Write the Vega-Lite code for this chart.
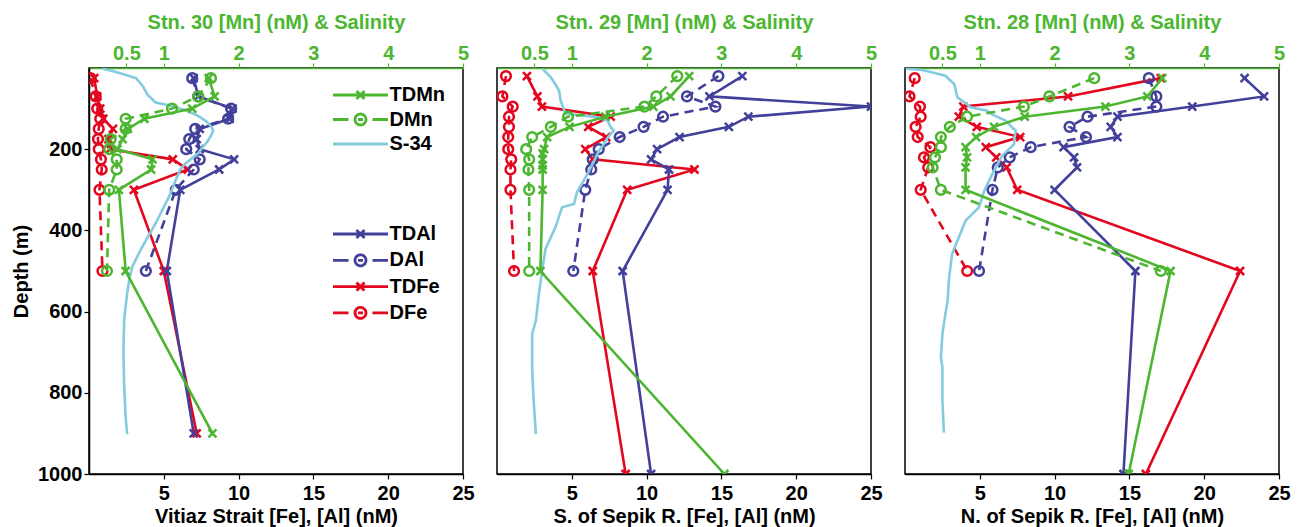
{
"$schema": "https://vega.github.io/schema/vega-lite/v6.json",
"background": "white",
"padding": {"left": 10, "top": 11, "right": 0, "bottom": 0},
"bounds": "flush",
"spacing": 34,
"data": {"values": [
{"stn":30,"series":"DFe","depth":25,"value":0.1},{"stn":30,"series":"DFe","depth":70,"value":0.45},{"stn":30,"series":"DFe","depth":100,"value":0.55},{"stn":30,"series":"DFe","depth":125,"value":0.75},{"stn":30,"series":"DFe","depth":150,"value":0.65},{"stn":30,"series":"DFe","depth":175,"value":0.6},{"stn":30,"series":"DFe","depth":200,"value":0.65},{"stn":30,"series":"DFe","depth":225,"value":0.8},{"stn":30,"series":"DFe","depth":250,"value":0.85},{"stn":30,"series":"DFe","depth":300,"value":0.7},{"stn":30,"series":"DFe","depth":500,"value":0.9},
{"stn":30,"series":"TDFe","depth":25,"value":0.35},{"stn":30,"series":"TDFe","depth":70,"value":0.55},{"stn":30,"series":"TDFe","depth":100,"value":0.75},{"stn":30,"series":"TDFe","depth":125,"value":0.95},{"stn":30,"series":"TDFe","depth":150,"value":1.6},{"stn":30,"series":"TDFe","depth":175,"value":1.3},{"stn":30,"series":"TDFe","depth":200,"value":1.4},{"stn":30,"series":"TDFe","depth":225,"value":5.6},{"stn":30,"series":"TDFe","depth":250,"value":6.6},{"stn":30,"series":"TDFe","depth":300,"value":3.0},{"stn":30,"series":"TDFe","depth":500,"value":5.0},{"stn":30,"series":"TDFe","depth":900,"value":7.2},
{"stn":30,"series":"DAl","depth":25,"value":6.9},{"stn":30,"series":"DAl","depth":70,"value":7.3},{"stn":30,"series":"DAl","depth":100,"value":9.5},{"stn":30,"series":"DAl","depth":125,"value":9.3},{"stn":30,"series":"DAl","depth":150,"value":7.1},{"stn":30,"series":"DAl","depth":175,"value":6.7},{"stn":30,"series":"DAl","depth":200,"value":6.5},{"stn":30,"series":"DAl","depth":225,"value":7.4},{"stn":30,"series":"DAl","depth":250,"value":7.0},{"stn":30,"series":"DAl","depth":300,"value":5.8},{"stn":30,"series":"DAl","depth":500,"value":3.8},
{"stn":30,"series":"TDAl","depth":25,"value":7.0},{"stn":30,"series":"TDAl","depth":70,"value":7.3},{"stn":30,"series":"TDAl","depth":100,"value":9.6},{"stn":30,"series":"TDAl","depth":125,"value":9.4},{"stn":30,"series":"TDAl","depth":150,"value":7.4},{"stn":30,"series":"TDAl","depth":175,"value":7.2},{"stn":30,"series":"TDAl","depth":200,"value":7.4},{"stn":30,"series":"TDAl","depth":225,"value":9.7},{"stn":30,"series":"TDAl","depth":250,"value":8.7},{"stn":30,"series":"TDAl","depth":300,"value":6.1},{"stn":30,"series":"TDAl","depth":500,"value":5.2},{"stn":30,"series":"TDAl","depth":900,"value":7.0},
{"stn":30,"series":"DMn","depth":25,"value":1.63},{"stn":30,"series":"DMn","depth":70,"value":1.46},{"stn":30,"series":"DMn","depth":100,"value":1.11},{"stn":30,"series":"DMn","depth":125,"value":0.49},{"stn":30,"series":"DMn","depth":150,"value":0.49},{"stn":30,"series":"DMn","depth":175,"value":0.29},{"stn":30,"series":"DMn","depth":200,"value":0.27},{"stn":30,"series":"DMn","depth":225,"value":0.37},{"stn":30,"series":"DMn","depth":250,"value":0.37},{"stn":30,"series":"DMn","depth":300,"value":0.27},{"stn":30,"series":"DMn","depth":500,"value":0.24},
{"stn":30,"series":"TDMn","depth":25,"value":1.6},{"stn":30,"series":"TDMn","depth":70,"value":1.68},{"stn":30,"series":"TDMn","depth":100,"value":1.38},{"stn":30,"series":"TDMn","depth":125,"value":0.74},{"stn":30,"series":"TDMn","depth":150,"value":0.52},{"stn":30,"series":"TDMn","depth":175,"value":0.45},{"stn":30,"series":"TDMn","depth":200,"value":0.38},{"stn":30,"series":"TDMn","depth":225,"value":0.85},{"stn":30,"series":"TDMn","depth":250,"value":0.83},{"stn":30,"series":"TDMn","depth":300,"value":0.4},{"stn":30,"series":"TDMn","depth":500,"value":0.49},{"stn":30,"series":"TDMn","depth":900,"value":1.65},
{"stn":30,"series":"S-34","depth":2,"value":0.18},{"stn":30,"series":"S-34","depth":7,"value":0.3},{"stn":30,"series":"S-34","depth":15,"value":0.45},{"stn":30,"series":"S-34","depth":25,"value":0.63},{"stn":30,"series":"S-34","depth":45,"value":0.72},{"stn":30,"series":"S-34","depth":65,"value":0.78},{"stn":30,"series":"S-34","depth":85,"value":0.89},{"stn":30,"series":"S-34","depth":93,"value":1.1},{"stn":30,"series":"S-34","depth":105,"value":1.3},{"stn":30,"series":"S-34","depth":115,"value":1.43},{"stn":30,"series":"S-34","depth":130,"value":1.56},{"stn":30,"series":"S-34","depth":145,"value":1.64},{"stn":30,"series":"S-34","depth":155,"value":1.66},{"stn":30,"series":"S-34","depth":170,"value":1.62},{"stn":30,"series":"S-34","depth":182,"value":1.58},{"stn":30,"series":"S-34","depth":195,"value":1.52},{"stn":30,"series":"S-34","depth":210,"value":1.46},{"stn":30,"series":"S-34","depth":222,"value":1.38},{"stn":30,"series":"S-34","depth":235,"value":1.29},{"stn":30,"series":"S-34","depth":250,"value":1.22},{"stn":30,"series":"S-34","depth":276,"value":1.16},{"stn":30,"series":"S-34","depth":317,"value":1.07},{"stn":30,"series":"S-34","depth":350,"value":0.98},{"stn":30,"series":"S-34","depth":383,"value":0.89},{"stn":30,"series":"S-34","depth":415,"value":0.79},{"stn":30,"series":"S-34","depth":448,"value":0.69},{"stn":30,"series":"S-34","depth":489,"value":0.58},{"stn":30,"series":"S-34","depth":520,"value":0.54},{"stn":30,"series":"S-34","depth":555,"value":0.51},{"stn":30,"series":"S-34","depth":620,"value":0.47},{"stn":30,"series":"S-34","depth":700,"value":0.46},{"stn":30,"series":"S-34","depth":780,"value":0.47},{"stn":30,"series":"S-34","depth":860,"value":0.49},{"stn":30,"series":"S-34","depth":902,"value":0.51},
{"stn":29,"series":"DFe","depth":20,"value":0.6},{"stn":29,"series":"DFe","depth":70,"value":0.36},{"stn":29,"series":"DFe","depth":95,"value":1.05},{"stn":29,"series":"DFe","depth":120,"value":0.8},{"stn":29,"series":"DFe","depth":145,"value":0.8},{"stn":29,"series":"DFe","depth":170,"value":0.75},{"stn":29,"series":"DFe","depth":200,"value":0.75},{"stn":29,"series":"DFe","depth":225,"value":0.95},{"stn":29,"series":"DFe","depth":250,"value":0.9},{"stn":29,"series":"DFe","depth":300,"value":0.9},{"stn":29,"series":"DFe","depth":500,"value":1.14},
{"stn":29,"series":"TDFe","depth":20,"value":2.0},{"stn":29,"series":"TDFe","depth":70,"value":2.7},{"stn":29,"series":"TDFe","depth":95,"value":3.0},{"stn":29,"series":"TDFe","depth":120,"value":7.6},{"stn":29,"series":"TDFe","depth":145,"value":6.1},{"stn":29,"series":"TDFe","depth":170,"value":7.3},{"stn":29,"series":"TDFe","depth":200,"value":5.9},{"stn":29,"series":"TDFe","depth":225,"value":6.4},{"stn":29,"series":"TDFe","depth":250,"value":13.2},{"stn":29,"series":"TDFe","depth":300,"value":8.7},{"stn":29,"series":"TDFe","depth":500,"value":6.4},{"stn":29,"series":"TDFe","depth":1000,"value":8.6},
{"stn":29,"series":"DAl","depth":20,"value":14.8},{"stn":29,"series":"DAl","depth":70,"value":12.7},{"stn":29,"series":"DAl","depth":95,"value":14.6},{"stn":29,"series":"DAl","depth":120,"value":11.1},{"stn":29,"series":"DAl","depth":145,"value":9.8},{"stn":29,"series":"DAl","depth":170,"value":8.2},{"stn":29,"series":"DAl","depth":200,"value":6.8},{"stn":29,"series":"DAl","depth":225,"value":6.4},{"stn":29,"series":"DAl","depth":250,"value":6.3},{"stn":29,"series":"DAl","depth":300,"value":5.9},{"stn":29,"series":"DAl","depth":500,"value":5.1},
{"stn":29,"series":"TDAl","depth":20,"value":16.4},{"stn":29,"series":"TDAl","depth":70,"value":14.2},{"stn":29,"series":"TDAl","depth":95,"value":25},{"stn":29,"series":"TDAl","depth":120,"value":16.8},{"stn":29,"series":"TDAl","depth":145,"value":15.5},{"stn":29,"series":"TDAl","depth":170,"value":12.2},{"stn":29,"series":"TDAl","depth":200,"value":10.7},{"stn":29,"series":"TDAl","depth":225,"value":10.3},{"stn":29,"series":"TDAl","depth":250,"value":11.5},{"stn":29,"series":"TDAl","depth":300,"value":11.4},{"stn":29,"series":"TDAl","depth":500,"value":8.4},{"stn":29,"series":"TDAl","depth":1000,"value":10.3},
{"stn":29,"series":"DMn","depth":20,"value":2.41},{"stn":29,"series":"DMn","depth":70,"value":2.13},{"stn":29,"series":"DMn","depth":95,"value":1.97},{"stn":29,"series":"DMn","depth":120,"value":0.95},{"stn":29,"series":"DMn","depth":145,"value":0.72},{"stn":29,"series":"DMn","depth":170,"value":0.47},{"stn":29,"series":"DMn","depth":200,"value":0.39},{"stn":29,"series":"DMn","depth":225,"value":0.43},{"stn":29,"series":"DMn","depth":250,"value":0.42},{"stn":29,"series":"DMn","depth":300,"value":0.43},{"stn":29,"series":"DMn","depth":500,"value":0.43},
{"stn":29,"series":"TDMn","depth":20,"value":2.57},{"stn":29,"series":"TDMn","depth":70,"value":2.32},{"stn":29,"series":"TDMn","depth":95,"value":2.09},{"stn":29,"series":"TDMn","depth":120,"value":1.45},{"stn":29,"series":"TDMn","depth":145,"value":0.97},{"stn":29,"series":"TDMn","depth":170,"value":0.67},{"stn":29,"series":"TDMn","depth":200,"value":0.63},{"stn":29,"series":"TDMn","depth":210,"value":0.61},{"stn":29,"series":"TDMn","depth":225,"value":0.61},{"stn":29,"series":"TDMn","depth":240,"value":0.61},{"stn":29,"series":"TDMn","depth":250,"value":0.61},{"stn":29,"series":"TDMn","depth":300,"value":0.61},{"stn":29,"series":"TDMn","depth":500,"value":0.58},{"stn":29,"series":"TDMn","depth":1000,"value":3.04},
{"stn":29,"series":"S-34","depth":2,"value":0.61},{"stn":29,"series":"S-34","depth":23,"value":0.72},{"stn":29,"series":"S-34","depth":40,"value":0.78},{"stn":29,"series":"S-34","depth":56,"value":0.83},{"stn":29,"series":"S-34","depth":80,"value":0.85},{"stn":29,"series":"S-34","depth":105,"value":0.9},{"stn":29,"series":"S-34","depth":113,"value":0.92},{"stn":29,"series":"S-34","depth":118,"value":1.2},{"stn":29,"series":"S-34","depth":122,"value":1.36},{"stn":29,"series":"S-34","depth":130,"value":1.48},{"stn":29,"series":"S-34","depth":146,"value":1.52},{"stn":29,"series":"S-34","depth":154,"value":1.56},{"stn":29,"series":"S-34","depth":171,"value":1.48},{"stn":29,"series":"S-34","depth":190,"value":1.42},{"stn":29,"series":"S-34","depth":204,"value":1.36},{"stn":29,"series":"S-34","depth":228,"value":1.3},{"stn":29,"series":"S-34","depth":261,"value":1.21},{"stn":29,"series":"S-34","depth":306,"value":1.07},{"stn":29,"series":"S-34","depth":335,"value":1.03},{"stn":29,"series":"S-34","depth":343,"value":0.87},{"stn":29,"series":"S-34","depth":393,"value":0.78},{"stn":29,"series":"S-34","depth":445,"value":0.65},{"stn":29,"series":"S-34","depth":491,"value":0.61},{"stn":29,"series":"S-34","depth":556,"value":0.56},{"stn":29,"series":"S-34","depth":622,"value":0.52},{"stn":29,"series":"S-34","depth":655,"value":0.47},{"stn":29,"series":"S-34","depth":738,"value":0.47},{"stn":29,"series":"S-34","depth":820,"value":0.49},{"stn":29,"series":"S-34","depth":902,"value":0.52},
{"stn":28,"series":"DFe","depth":25,"value":0.65},{"stn":28,"series":"DFe","depth":70,"value":0.3},{"stn":28,"series":"DFe","depth":95,"value":1.0},{"stn":28,"series":"DFe","depth":120,"value":1.05},{"stn":28,"series":"DFe","depth":145,"value":0.71},{"stn":28,"series":"DFe","depth":170,"value":0.85},{"stn":28,"series":"DFe","depth":195,"value":1.7},{"stn":28,"series":"DFe","depth":220,"value":1.27},{"stn":28,"series":"DFe","depth":245,"value":1.55},{"stn":28,"series":"DFe","depth":300,"value":1.05},{"stn":28,"series":"DFe","depth":500,"value":4.16},
{"stn":28,"series":"TDFe","depth":25,"value":17.1},{"stn":28,"series":"TDFe","depth":70,"value":10.9},{"stn":28,"series":"TDFe","depth":95,"value":3.9},{"stn":28,"series":"TDFe","depth":120,"value":3.6},{"stn":28,"series":"TDFe","depth":145,"value":4.8},{"stn":28,"series":"TDFe","depth":170,"value":7.7},{"stn":28,"series":"TDFe","depth":195,"value":5.4},{"stn":28,"series":"TDFe","depth":220,"value":6.1},{"stn":28,"series":"TDFe","depth":245,"value":6.8},{"stn":28,"series":"TDFe","depth":300,"value":7.5},{"stn":28,"series":"TDFe","depth":500,"value":22.4},{"stn":28,"series":"TDFe","depth":1000,"value":16.1},
{"stn":28,"series":"DAl","depth":25,"value":16.3},{"stn":28,"series":"DAl","depth":70,"value":16.8},{"stn":28,"series":"DAl","depth":95,"value":16.8},{"stn":28,"series":"DAl","depth":120,"value":12.2},{"stn":28,"series":"DAl","depth":145,"value":11.0},{"stn":28,"series":"DAl","depth":170,"value":12.1},{"stn":28,"series":"DAl","depth":195,"value":8.4},{"stn":28,"series":"DAl","depth":220,"value":7.0},{"stn":28,"series":"DAl","depth":245,"value":6.2},{"stn":28,"series":"DAl","depth":300,"value":5.85},{"stn":28,"series":"DAl","depth":500,"value":4.95},
{"stn":28,"series":"TDAl","depth":25,"value":22.7},{"stn":28,"series":"TDAl","depth":70,"value":24.0},{"stn":28,"series":"TDAl","depth":95,"value":19.2},{"stn":28,"series":"TDAl","depth":120,"value":14.2},{"stn":28,"series":"TDAl","depth":145,"value":13.75},{"stn":28,"series":"TDAl","depth":170,"value":14.2},{"stn":28,"series":"TDAl","depth":195,"value":10.6},{"stn":28,"series":"TDAl","depth":220,"value":11.3},{"stn":28,"series":"TDAl","depth":245,"value":11.5},{"stn":28,"series":"TDAl","depth":300,"value":10.0},{"stn":28,"series":"TDAl","depth":500,"value":15.4},{"stn":28,"series":"TDAl","depth":1000,"value":14.6},
{"stn":28,"series":"DMn","depth":25,"value":2.53},{"stn":28,"series":"DMn","depth":70,"value":1.93},{"stn":28,"series":"DMn","depth":95,"value":1.59},{"stn":28,"series":"DMn","depth":120,"value":0.83},{"stn":28,"series":"DMn","depth":145,"value":0.6},{"stn":28,"series":"DMn","depth":170,"value":0.48},{"stn":28,"series":"DMn","depth":195,"value":0.48},{"stn":28,"series":"DMn","depth":220,"value":0.4},{"stn":28,"series":"DMn","depth":245,"value":0.37},{"stn":28,"series":"DMn","depth":300,"value":0.48},{"stn":28,"series":"DMn","depth":500,"value":3.42},
{"stn":28,"series":"TDMn","depth":25,"value":3.44},{"stn":28,"series":"TDMn","depth":70,"value":3.24},{"stn":28,"series":"TDMn","depth":95,"value":2.68},{"stn":28,"series":"TDMn","depth":120,"value":1.6},{"stn":28,"series":"TDMn","depth":145,"value":1.19},{"stn":28,"series":"TDMn","depth":170,"value":0.95},{"stn":28,"series":"TDMn","depth":195,"value":0.81},{"stn":28,"series":"TDMn","depth":220,"value":0.83},{"stn":28,"series":"TDMn","depth":245,"value":0.81},{"stn":28,"series":"TDMn","depth":300,"value":0.81},{"stn":28,"series":"TDMn","depth":500,"value":3.55},{"stn":28,"series":"TDMn","depth":1000,"value":2.99},
{"stn":28,"series":"S-34","depth":2,"value":0.01},{"stn":28,"series":"S-34","depth":5,"value":0.23},{"stn":28,"series":"S-34","depth":11,"value":0.37},{"stn":28,"series":"S-34","depth":19,"value":0.54},{"stn":28,"series":"S-34","depth":40,"value":0.66},{"stn":28,"series":"S-34","depth":72,"value":0.7},{"stn":28,"series":"S-34","depth":97,"value":0.88},{"stn":28,"series":"S-34","depth":105,"value":1.1},{"stn":28,"series":"S-34","depth":113,"value":1.15},{"stn":28,"series":"S-34","depth":130,"value":1.35},{"stn":28,"series":"S-34","depth":146,"value":1.43},{"stn":28,"series":"S-34","depth":154,"value":1.48},{"stn":28,"series":"S-34","depth":179,"value":1.46},{"stn":28,"series":"S-34","depth":187,"value":1.46},{"stn":28,"series":"S-34","depth":216,"value":1.3},{"stn":28,"series":"S-34","depth":253,"value":1.19},{"stn":28,"series":"S-34","depth":302,"value":1.06},{"stn":28,"series":"S-34","depth":343,"value":0.99},{"stn":28,"series":"S-34","depth":376,"value":0.81},{"stn":28,"series":"S-34","depth":417,"value":0.72},{"stn":28,"series":"S-34","depth":458,"value":0.63},{"stn":28,"series":"S-34","depth":516,"value":0.59},{"stn":28,"series":"S-34","depth":573,"value":0.57},{"stn":28,"series":"S-34","depth":606,"value":0.54},{"stn":28,"series":"S-34","depth":655,"value":0.5},{"stn":28,"series":"S-34","depth":713,"value":0.48},{"stn":28,"series":"S-34","depth":738,"value":0.5},{"stn":28,"series":"S-34","depth":820,"value":0.5},{"stn":28,"series":"S-34","depth":898,"value":0.52}
]},
"resolve": {"scale": {"x": "independent", "y": "independent", "color": "independent"}},
"hconcat": [
{
"width": 374, "height": 406,
"encoding": {"y": {"field": "depth", "type": "quantitative", "scale": {"domain": [0, 1000], "reverse": true, "nice": false, "zero": false}, "axis": {"values": [200, 400, 600, 800, 1000], "format": "d", "title": "Depth (m)", "tickSize": 5, "labelPadding": 2, "titlePadding": 6}}},
"resolve": {"scale": {"x": "independent", "color": "independent"}},
"layer": [
{
"transform": [{"filter": "datum.stn === 30 && indexof(['TDAl','DAl','TDFe','DFe'], datum.series) >= 0"}],
"encoding": {
"x": {"field": "value", "type": "quantitative", "scale": {"domain": [0, 25], "nice": false, "zero": false}, "axis": {"orient": "bottom", "values": [5, 10, 15, 20, 25], "format": "d", "title": "Vitiaz Strait [Fe], [Al] (nM)", "tickSize": 5, "labelPadding": 4, "titlePadding": 3}},
"color": {"field": "series", "type": "nominal", "scale": {"domain": ["TDAl", "DAl", "TDFe", "DFe"], "range": ["#42409A", "#42409A", "#E3061E", "#E3061E"]},
"legend": {"orient": "none", "legendX": 239, "legendY": 156, "title": null, "padding": 0, "symbolSize": 100, "symbolOffset": 22.5, "labelOffset": 19, "rowPadding": 4.3, "labelFont": "Liberation Sans", "labelFontSize": 20, "labelFontWeight": "bold", "labelColor": "black",
"encode": {"symbols": {"update": {"shape": {"signal": "indexof(['TDMn','TDAl','TDFe'], datum.value) >= 0 ? 'M-5.5,0L5.5,0M-0.8,-0.8L0.8,0.8M-0.8,0.8L0.8,-0.8' : datum.value === 'S-34' ? 'M-5.5,0L5.5,0' : 'M-5.5,0L-2.4,0M2.4,0L5.5,0M1.1,0A1.1,1.1,0,1,1,-1.1,0A1.1,1.1,0,1,1,1.1,0M-0.5,0L0.5,0'"}, "size": {"value": 100}, "fill": {"value": "transparent"}, "strokeWidth": {"value": 2.8}, "strokeDash": {"value": [1, 0]}, "opacity": {"value": 1}}}}}},
"order": {"field": "depth", "type": "quantitative"}
},
"layer": [
{"transform": [{"filter": "datum.series === 'TDAl' || datum.series === 'TDFe'"}], "mark": {"type": "line", "strokeWidth": 2.6, "clip": true}},
{"transform": [{"filter": "datum.series === 'DAl' || datum.series === 'DFe'"}], "mark": {"type": "line", "strokeWidth": 2.6, "strokeDash": [9, 6], "clip": true}},
{"transform": [{"filter": "datum.series === 'TDAl' || datum.series === 'TDFe'"}], "mark": {"type": "point", "shape": "M-1,-1L1,1M-1,1L1,-1", "size": 64, "strokeWidth": 2.5, "filled": false, "opacity": 1, "clip": true}},
{"transform": [{"filter": "datum.series === 'DAl' || datum.series === 'DFe'"}], "mark": {"type": "point", "shape": "circle", "size": 95, "strokeWidth": 2.5, "filled": false, "opacity": 1, "clip": true}}
]
},
{
"transform": [{"filter": "datum.stn === 30 && indexof(['TDMn','DMn','S-34'], datum.series) >= 0"}],
"encoding": {
"x": {"field": "value", "type": "quantitative", "scale": {"domain": [0, 5], "nice": false, "zero": false}, "axis": {"orient": "top", "values": [0.5, 1, 2, 3, 4, 5], "format": "~g", "title": "Stn. 30 [Mn] (nM) & Salinity", "labelColor": "#4CB630", "titleColor": "#4CB630", "domainColor": "#4CB630", "tickColor": "#4CB630", "tickSize": 5, "labelPadding": 0, "titlePadding": 11}},
"color": {"field": "series", "type": "nominal", "scale": {"domain": ["TDMn", "DMn", "S-34"], "range": ["#4CB630", "#4CB630", "#84CBDF"]},
"legend": {"orient": "none", "legendX": 239, "legendY": 17, "title": null, "padding": 0, "symbolSize": 100, "symbolOffset": 22.5, "labelOffset": 19, "rowPadding": 2.5, "labelFont": "Liberation Sans", "labelFontSize": 20, "labelFontWeight": "bold", "labelColor": "black",
"encode": {"symbols": {"update": {"shape": {"signal": "indexof(['TDMn','TDAl','TDFe'], datum.value) >= 0 ? 'M-5.5,0L5.5,0M-0.8,-0.8L0.8,0.8M-0.8,0.8L0.8,-0.8' : datum.value === 'S-34' ? 'M-5.5,0L5.5,0' : 'M-5.5,0L-2.4,0M2.4,0L5.5,0M1.1,0A1.1,1.1,0,1,1,-1.1,0A1.1,1.1,0,1,1,1.1,0M-0.5,0L0.5,0'"}, "size": {"value": 100}, "fill": {"value": "transparent"}, "strokeWidth": {"value": 2.8}, "strokeDash": {"value": [1, 0]}, "opacity": {"value": 1}}}}}},
"order": {"field": "depth", "type": "quantitative"}
},
"layer": [
{"transform": [{"filter": "datum.series === 'S-34'"}], "mark": {"type": "line", "strokeWidth": 2.6, "clip": true}},
{"transform": [{"filter": "datum.series === 'TDMn'"}], "mark": {"type": "line", "strokeWidth": 2.6, "clip": true}},
{"transform": [{"filter": "datum.series === 'DMn'"}], "mark": {"type": "line", "strokeWidth": 2.6, "strokeDash": [9, 6], "clip": true}},
{"transform": [{"filter": "datum.series === 'TDMn'"}], "mark": {"type": "point", "shape": "M-1,-1L1,1M-1,1L1,-1", "size": 64, "strokeWidth": 2.5, "filled": false, "opacity": 1, "clip": true}},
{"transform": [{"filter": "datum.series === 'DMn'"}], "mark": {"type": "point", "shape": "circle", "size": 95, "strokeWidth": 2.5, "filled": false, "opacity": 1, "clip": true}}
]
}
]
},
{
"width": 374, "height": 406,
"encoding": {"y": {"field": "depth", "type": "quantitative", "scale": {"domain": [0, 1000], "reverse": true, "nice": false, "zero": false}, "axis": null}},
"resolve": {"scale": {"x": "independent", "color": "independent"}},
"layer": [
{
"transform": [{"filter": "datum.stn === 29 && indexof(['TDAl','DAl','TDFe','DFe'], datum.series) >= 0"}],
"encoding": {
"x": {"field": "value", "type": "quantitative", "scale": {"domain": [0, 25], "nice": false, "zero": false}, "axis": {"orient": "bottom", "values": [5, 10, 15, 20, 25], "format": "d", "title": "S. of Sepik R. [Fe], [Al] (nM)", "tickSize": 5, "labelPadding": 4, "titlePadding": 3}},
"color": {"field": "series", "type": "nominal", "scale": {"domain": ["TDAl", "DAl", "TDFe", "DFe"], "range": ["#42409A", "#42409A", "#E3061E", "#E3061E"]}, "legend": null},
"order": {"field": "depth", "type": "quantitative"}
},
"layer": [
{"transform": [{"filter": "datum.series === 'TDAl' || datum.series === 'TDFe'"}], "mark": {"type": "line", "strokeWidth": 2.6, "clip": true}},
{"transform": [{"filter": "datum.series === 'DAl' || datum.series === 'DFe'"}], "mark": {"type": "line", "strokeWidth": 2.6, "strokeDash": [9, 6], "clip": true}},
{"transform": [{"filter": "datum.series === 'TDAl' || datum.series === 'TDFe'"}], "mark": {"type": "point", "shape": "M-1,-1L1,1M-1,1L1,-1", "size": 64, "strokeWidth": 2.5, "filled": false, "opacity": 1, "clip": true}},
{"transform": [{"filter": "datum.series === 'DAl' || datum.series === 'DFe'"}], "mark": {"type": "point", "shape": "circle", "size": 95, "strokeWidth": 2.5, "filled": false, "opacity": 1, "clip": true}}
]
},
{
"transform": [{"filter": "datum.stn === 29 && indexof(['TDMn','DMn','S-34'], datum.series) >= 0"}],
"encoding": {
"x": {"field": "value", "type": "quantitative", "scale": {"domain": [0, 5], "nice": false, "zero": false}, "axis": {"orient": "top", "values": [0.5, 1, 2, 3, 4, 5], "format": "~g", "title": "Stn. 29 [Mn] (nM) & Salinity", "labelColor": "#4CB630", "titleColor": "#4CB630", "domainColor": "#4CB630", "tickColor": "#4CB630", "tickSize": 5, "labelPadding": 0, "titlePadding": 11}},
"color": {"field": "series", "type": "nominal", "scale": {"domain": ["TDMn", "DMn", "S-34"], "range": ["#4CB630", "#4CB630", "#84CBDF"]}, "legend": null},
"order": {"field": "depth", "type": "quantitative"}
},
"layer": [
{"transform": [{"filter": "datum.series === 'S-34'"}], "mark": {"type": "line", "strokeWidth": 2.6, "clip": true}},
{"transform": [{"filter": "datum.series === 'TDMn'"}], "mark": {"type": "line", "strokeWidth": 2.6, "clip": true}},
{"transform": [{"filter": "datum.series === 'DMn'"}], "mark": {"type": "line", "strokeWidth": 2.6, "strokeDash": [9, 6], "clip": true}},
{"transform": [{"filter": "datum.series === 'TDMn'"}], "mark": {"type": "point", "shape": "M-1,-1L1,1M-1,1L1,-1", "size": 64, "strokeWidth": 2.5, "filled": false, "opacity": 1, "clip": true}},
{"transform": [{"filter": "datum.series === 'DMn'"}], "mark": {"type": "point", "shape": "circle", "size": 95, "strokeWidth": 2.5, "filled": false, "opacity": 1, "clip": true}}
]
}
]
},
{
"width": 374, "height": 406,
"encoding": {"y": {"field": "depth", "type": "quantitative", "scale": {"domain": [0, 1000], "reverse": true, "nice": false, "zero": false}, "axis": null}},
"resolve": {"scale": {"x": "independent", "color": "independent"}},
"layer": [
{
"transform": [{"filter": "datum.stn === 28 && indexof(['TDAl','DAl','TDFe','DFe'], datum.series) >= 0"}],
"encoding": {
"x": {"field": "value", "type": "quantitative", "scale": {"domain": [0, 25], "nice": false, "zero": false}, "axis": {"orient": "bottom", "values": [5, 10, 15, 20, 25], "format": "d", "title": "N. of Sepik R. [Fe], [Al] (nM)", "tickSize": 5, "labelPadding": 4, "titlePadding": 3}},
"color": {"field": "series", "type": "nominal", "scale": {"domain": ["TDAl", "DAl", "TDFe", "DFe"], "range": ["#42409A", "#42409A", "#E3061E", "#E3061E"]}, "legend": null},
"order": {"field": "depth", "type": "quantitative"}
},
"layer": [
{"transform": [{"filter": "datum.series === 'TDAl' || datum.series === 'TDFe'"}], "mark": {"type": "line", "strokeWidth": 2.6, "clip": true}},
{"transform": [{"filter": "datum.series === 'DAl' || datum.series === 'DFe'"}], "mark": {"type": "line", "strokeWidth": 2.6, "strokeDash": [9, 6], "clip": true}},
{"transform": [{"filter": "datum.series === 'TDAl' || datum.series === 'TDFe'"}], "mark": {"type": "point", "shape": "M-1,-1L1,1M-1,1L1,-1", "size": 64, "strokeWidth": 2.5, "filled": false, "opacity": 1, "clip": true}},
{"transform": [{"filter": "datum.series === 'DAl' || datum.series === 'DFe'"}], "mark": {"type": "point", "shape": "circle", "size": 95, "strokeWidth": 2.5, "filled": false, "opacity": 1, "clip": true}}
]
},
{
"transform": [{"filter": "datum.stn === 28 && indexof(['TDMn','DMn','S-34'], datum.series) >= 0"}],
"encoding": {
"x": {"field": "value", "type": "quantitative", "scale": {"domain": [0, 5], "nice": false, "zero": false}, "axis": {"orient": "top", "values": [0.5, 1, 2, 3, 4, 5], "format": "~g", "title": "Stn. 28 [Mn] (nM) & Salinity", "labelColor": "#4CB630", "titleColor": "#4CB630", "domainColor": "#4CB630", "tickColor": "#4CB630", "tickSize": 5, "labelPadding": 0, "titlePadding": 11}},
"color": {"field": "series", "type": "nominal", "scale": {"domain": ["TDMn", "DMn", "S-34"], "range": ["#4CB630", "#4CB630", "#84CBDF"]}, "legend": null},
"order": {"field": "depth", "type": "quantitative"}
},
"layer": [
{"transform": [{"filter": "datum.series === 'S-34'"}], "mark": {"type": "line", "strokeWidth": 2.6, "clip": true}},
{"transform": [{"filter": "datum.series === 'TDMn'"}], "mark": {"type": "line", "strokeWidth": 2.6, "clip": true}},
{"transform": [{"filter": "datum.series === 'DMn'"}], "mark": {"type": "line", "strokeWidth": 2.6, "strokeDash": [9, 6], "clip": true}},
{"transform": [{"filter": "datum.series === 'TDMn'"}], "mark": {"type": "point", "shape": "M-1,-1L1,1M-1,1L1,-1", "size": 64, "strokeWidth": 2.5, "filled": false, "opacity": 1, "clip": true}},
{"transform": [{"filter": "datum.series === 'DMn'"}], "mark": {"type": "point", "shape": "circle", "size": 95, "strokeWidth": 2.5, "filled": false, "opacity": 1, "clip": true}}
]
}
]
}
],
"config": {
"font": "Liberation Sans",
"view": {"stroke": "black", "strokeWidth": 1.5},
"axis": {"grid": false, "labelFont": "Liberation Sans", "labelFontSize": 20, "labelFontWeight": "bold", "labelColor": "black", "titleFont": "Liberation Sans", "titleFontSize": 20, "titleFontWeight": "bold", "titleColor": "black", "domainColor": "black", "domainWidth": 1.5, "tickColor": "black", "tickWidth": 1.2, "labelFlush": false, "labelOverlap": false}
}
}
